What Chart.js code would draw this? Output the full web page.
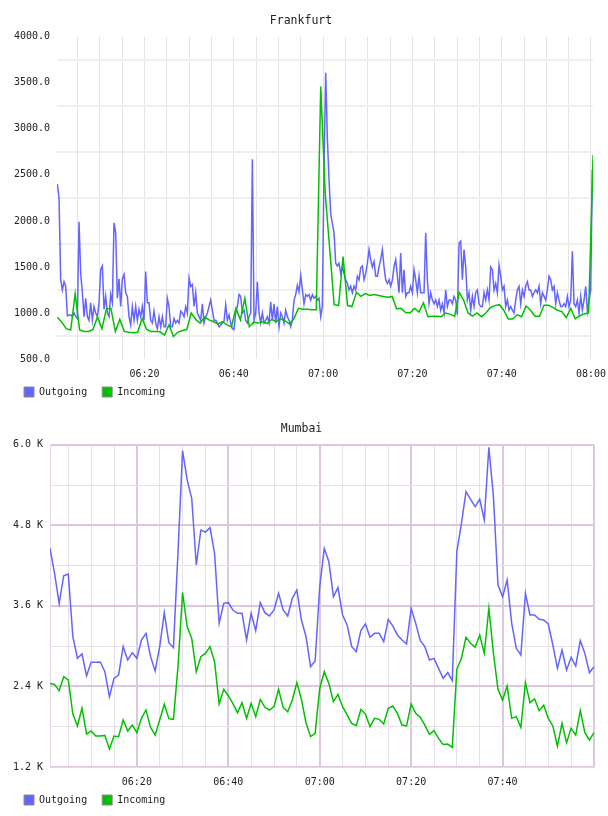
<!DOCTYPE html>
<html>
<head>
<meta charset="utf-8">
<script src="https://cdn.jsdelivr.net/npm/chart.js@4"></script>
<style>
  html, body { margin: 0; padding: 0; background: #fff; }
  .box { position: absolute; left: 0; width: 608px; height: 408px; }
  #fra { top: 0; }
  #mum { top: 408px; }
</style>
</head>
<body>
<div class="box" id="fra"><canvas id="frCanvas"></canvas></div>
<div class="box" id="mum"><canvas id="muCanvas"></canvas></div>
<script>
// minutes after 06:00
const gridMinutes = [5, 10, 15, 20, 25, 30, 35, 40, 45, 50, 55, 60, 65, 70, 75, 80, 85, 90, 95, 100, 105, 110, 115, 120]
const labelMinutes = [20, 40, 60, 80, 100, 120]
const frTimeLabels = ['06:20', '06:40', '07:00', '07:20', '07:40', '08:00']
const muTimeLabels = ['06:20', '06:40', '07:00', '07:20', '07:40', '']

const seriesNames = ['Outgoing', 'Incoming']

// Frankfurt outgoing, one sample every ~22 s
const frOutStart = 0.48
const frOutStep = 0.3733
const frOutgoing = [
  2400, 2250, 1360, 1250, 1340, 1290, 970, 975, 980, 960,
  1000, 960, 940, 1990, 1430, 1220, 960, 1160, 960, 920,
  1110, 920, 1070, 1000, 960, 1110, 1470, 1510, 1040, 1180,
  1000, 960, 1200, 1110, 1980, 1870, 1160, 1370, 1070, 1370,
  1420, 1220, 1180, 960, 870, 1070, 920, 1070, 920, 1040,
  960, 1070, 920, 1450, 1110, 1110, 920, 890, 1020, 890,
  830, 960, 850, 960, 850, 850, 1160, 1070, 850, 850,
  940, 890, 920, 890, 1020, 1000, 960, 1070, 1000, 1380,
  1290, 1310, 1070, 1220, 1000, 960,
  920, 1100, 890, 960, 1000, 1070, 1140, 1030, 920, 920,
  890, 850, 870, 890, 910, 1090, 920, 980, 890, 830,
  820, 1000, 1070, 1200, 1180, 1000, 1030, 920, 890, 960,
  1000, 2670, 920, 1000, 1340, 1000, 890, 1000, 890, 920,
  960, 890, 1120, 920, 1100, 890, 1070, 850, 1000, 960,
  890, 1030, 960, 920, 850, 920, 1140, 1200, 1300, 1230,
  1410, 1250, 1100, 1200, 1180, 1200, 1140, 1200, 1160, 1180,
  1140, 1160, 960, 1070, 2600, 3610, 2900, 2450, 2080, 1970,
  1870, 1540, 1510, 1540, 1430, 1500, 1430, 1360, 1320, 1250,
  1290, 1220, 1290, 1250, 1400, 1360, 1490, 1510, 1360, 1430,
  1540, 1690, 1580, 1500, 1560, 1400, 1400, 1500, 1580, 1690,
  1500, 1360, 1320, 1360, 1290, 1360, 1500, 1580, 1400, 1220,
  1650, 1220, 1470, 1180, 1220, 1220, 1290, 1220, 1470, 1360,
  1220, 1400, 1220, 1220, 1220, 1870, 1360, 1100, 1220, 1140,
  1100, 1140, 1070, 1140, 1030, 1100, 1000, 1250, 1070, 1140,
  1140, 1100, 1180, 1140, 980, 1760, 1780, 1360, 1690, 1500,
  1140, 1220, 1030, 1180, 1070, 1220, 1250, 1100, 1070, 1070,
  1220, 1140, 1250, 1140, 1500, 1470, 1250, 1320, 1220, 1520,
  1400, 1250, 1290, 1070, 1140, 1030, 1070, 1030, 1000, 1140,
  1250, 1290, 1100, 1250, 1180, 1290, 1340, 1250, 1250, 1180,
  1220, 1250, 1220, 1290, 1100, 1220, 1180, 1140, 1250, 1400,
  1360, 1250, 1290, 1100, 1220, 1140, 1070, 1070, 1100, 1070,
  1180, 1070, 1140, 1670, 1100, 1070, 1140, 1000, 1180, 1030,
  1140, 1290, 1020, 1140, 1250, 2560
]

// Frankfurt incoming, one sample a minute
const frInStart = 0.47
const frInStep = 1
const frIncoming = [
  953, 900, 830, 815, 1210, 815, 800, 800, 820, 960,
  830, 1045, 1050, 800, 930, 800, 790, 785, 790, 940,
  820, 800, 800, 795, 760, 870, 745, 790, 810, 820,
  1000, 930, 890, 955, 925, 905, 880, 905, 870, 851,
  1050, 925, 1160, 851, 900, 890, 905, 885, 930, 905,
  940, 915, 880, 940, 1050, 1040, 1040, 1035, 1035, 3460,
  2300, 1700, 1090, 1080, 1613, 1080, 1070, 1225, 1180, 1210,
  1190, 1200, 1190, 1180, 1170, 1180, 1045, 1050, 1005, 1000,
  1050, 1010, 1110, 960, 965, 965, 960, 1000, 985, 965,
  1223, 1140, 1000, 965, 1000, 960, 1000, 1060, 1080, 1090,
  1030, 935, 935, 980, 960, 1075, 1030, 965, 965, 1085,
  1085, 1060, 1030, 1015, 950, 1050, 935, 970, 990, 1000,
  2717
]

// Mumbai, one sample a minute
const muStart = 1
const muStep = 1
const muOutgoing = [
  4458, 4085, 3638, 4050, 4075, 3142, 2819, 2883, 2556, 2759,
  2759, 2764, 2620, 2248, 2521, 2570, 2993, 2794, 2903, 2819,
  3092, 3191, 2844, 2630, 2993, 3499, 3052, 2978, 4400, 5913,
  5476, 5203, 4209, 4731, 4700, 4766, 4383, 3340, 3638, 3648,
  3539, 3489, 3489, 3092, 3489, 3231, 3648, 3499, 3450, 3539,
  3787, 3539, 3450, 3713, 3837, 3390, 3142, 2695, 2779, 3886,
  4458, 4259, 3738, 3872, 3465, 3315, 2993, 2918, 3231, 3330,
  3132, 3191, 3191, 3067, 3400, 3300, 3167, 3092, 3032, 3564,
  3340, 3082, 2993, 2794, 2819, 2670, 2521, 2605, 2486, 4408,
  4830, 5302, 5188, 5079, 5188, 4880, 5963, 5228, 3911, 3738,
  3986, 3340, 2968, 2868, 3787, 3465, 3465, 3400, 3390, 3330,
  3017, 2670, 2943, 2645, 2834, 2705, 3082, 2893, 2605, 2695
]
const muIncoming = [
  2446, 2431, 2337, 2546, 2496, 1989, 1811, 2074, 1691, 1736,
  1661, 1661, 1671, 1468, 1661, 1652, 1900, 1736, 1825, 1711,
  1925, 2049, 1791, 1676, 1900, 2138, 1920, 1910, 2695, 3800,
  3291, 3117, 2620, 2844, 2893, 2993, 2769, 2138, 2357, 2262,
  2148, 2009, 2158, 1925, 2148, 1950, 2208, 2089, 2049, 2099,
  2357, 2089, 2024, 2198, 2456, 2208, 1860, 1652, 1701, 2372,
  2620, 2446, 2173, 2282, 2099, 1975, 1850, 1816, 2059, 1989,
  1801, 1925, 1910, 1840, 2074, 2109, 1999, 1825, 1811, 2138,
  1999, 1940, 1825, 1686, 1741, 1627, 1537, 1542, 1493, 2655,
  2819, 3132, 3042, 2983, 3167, 2893, 3564, 2893, 2357, 2198,
  2406, 1925, 1950, 1791, 2456, 2158, 2213, 2039, 2119, 1925,
  1811, 1512, 1850, 1562, 1776, 1676, 2039, 1711, 1602, 1711
]

const blue = '#6464ff'
const green = '#00c000'

Chart.defaults.font.family = "'DejaVu Sans Mono', monospace"
Chart.defaults.color = '#222'
Chart.defaults.animation = false

const toPoints = (start, step, values) => values.map((v, i) => ({ x: start + i * step, y: v }))

// the x labels sit partly inside the legend band; widen the label clip area
const tallTickArea = {
  id: 'tallTickArea',
  afterLayout: (chart) => {
    const x = chart.scales.x
    x.bottom = x.top + 30
    x.height = 30
  },
}

const makeChart = (canvas, cfg) => {
  const datasets = [
    { label: seriesNames[0], data: cfg.outgoing, borderColor: blue, backgroundColor: blue, order: 1 },
    { label: seriesNames[1], data: cfg.incoming, borderColor: green, backgroundColor: green, order: 0 },
  ].map((d) => ({ ...d, borderWidth: 1.5, pointRadius: 0, tension: 0, fill: false }))

  return new Chart(canvas, {
    type: 'line',
    data: { datasets },
    plugins: [tallTickArea],
    options: {
      responsive: true,
      maintainAspectRatio: false,
      layout: { padding: { left: 9, right: cfg.padRight, top: 0, bottom: 1 } },
      plugins: {
        tooltip: { enabled: false },
        title: {
          display: true,
          text: cfg.title,
          color: '#222',
          font: { size: 11.5, weight: 'normal' },
          padding: cfg.titlePad,
        },
        legend: {
          position: 'bottom',
          align: 'start',
          labels: {
            font: { size: 10 },
            boxWidth: 10,
            boxHeight: 10,
            padding: 15,
            color: '#222',
            sort: (a, b) => a.datasetIndex - b.datasetIndex,
            generateLabels: (chart) =>
              Chart.defaults.plugins.legend.labels.generateLabels(chart).map((l) => ({
                ...l,
                strokeStyle: '#8c8c8c',
                lineWidth: 1,
              })),
          },
        },
      },
      scales: {
        x: {
          type: 'linear',
          min: cfg.xMin,
          max: cfg.xMax,
          afterBuildTicks: (scale) => {
            scale.ticks = gridMinutes.filter((m) => m >= cfg.xMin && m <= cfg.xMax).map((m) => ({ value: m }))
          },
          afterFit: (scale) => {
            scale.height = 13
            scale.paddingLeft = 0
            scale.paddingRight = 0
          },
          ticks: {
            autoSkip: false,
            maxRotation: 0,
            padding: 9,
            font: { size: 10 },
            color: '#222',
            callback: (value) => {
              const i = labelMinutes.indexOf(value)
              return i >= 0 ? cfg.timeLabels[i] : ''
            },
          },
          grid: {
            drawTicks: false,
            color: cfg.xGridColor,
            lineWidth: cfg.xGridWidth,
          },
          border: cfg.border,
        },
        y: {
          min: cfg.yMin,
          max: cfg.yMax,
          afterFit: (scale) => {
            scale.width = cfg.yWidth
            scale.paddingTop = 0
            scale.paddingBottom = 0
          },
          ticks: {
            stepSize: cfg.yStep,
            autoSkip: false,
            padding: 7,
            font: { size: 10 },
            color: '#222',
            callback: cfg.yLabel,
          },
          grid: {
            drawTicks: false,
            offset: cfg.yGridOffset,
            color: cfg.yGridColor,
            lineWidth: cfg.yGridWidth,
          },
          border: cfg.border,
        },
      },
    },
  })
}

makeChart(document.getElementById('frCanvas'), {
  title: 'Frankfurt',
  titlePad: { top: 14, bottom: 9 },
  padRight: 15,
  outgoing: toPoints(frOutStart, frOutStep, frOutgoing),
  incoming: toPoints(frInStart, frInStep, frIncoming),
  xMin: 0.4,
  xMax: 120.45,
  timeLabels: frTimeLabels,
  xGridColor: '#e4e4e4',
  xGridWidth: 1,
  yMin: 500,
  yMax: 4000,
  yStep: 500,
  yWidth: 48,
  yLabel: (v) => v.toFixed(1),
  yGridOffset: true,
  yGridColor: '#efefef',
  yGridWidth: 2,
  border: { display: false },
})

const muMajor = '#dcc8dc'
const muMinor = '#e8e0e8'

makeChart(document.getElementById('muCanvas'), {
  title: 'Mumbai',
  titlePad: { top: 14.5, bottom: 8.5 },
  padRight: 14,
  outgoing: toPoints(muStart, muStep, muOutgoing),
  incoming: toPoints(muStart, muStep, muIncoming),
  xMin: 1,
  xMax: 120,
  timeLabels: muTimeLabels,
  xGridColor: (ctx) => (ctx.tick && ctx.tick.value % 20 === 0 ? muMajor : muMinor),
  xGridWidth: (ctx) => (ctx.tick && ctx.tick.value % 20 === 0 ? 2 : 1),
  yMin: 1200,
  yMax: 6000,
  yStep: 600,
  yWidth: 41,
  yLabel: (v) => (v % 1200 === 0 ? (v / 1000).toFixed(1) + ' K' : ''),
  yGridOffset: false,
  yGridColor: (ctx) => (ctx.tick && ctx.tick.value % 1200 === 0 ? muMajor : muMinor),
  yGridWidth: (ctx) => (ctx.tick && ctx.tick.value % 1200 === 0 ? 2 : 1),
  border: { display: true, color: '#e6d6e6', width: 1 },
})
</script>
</body>
</html>
